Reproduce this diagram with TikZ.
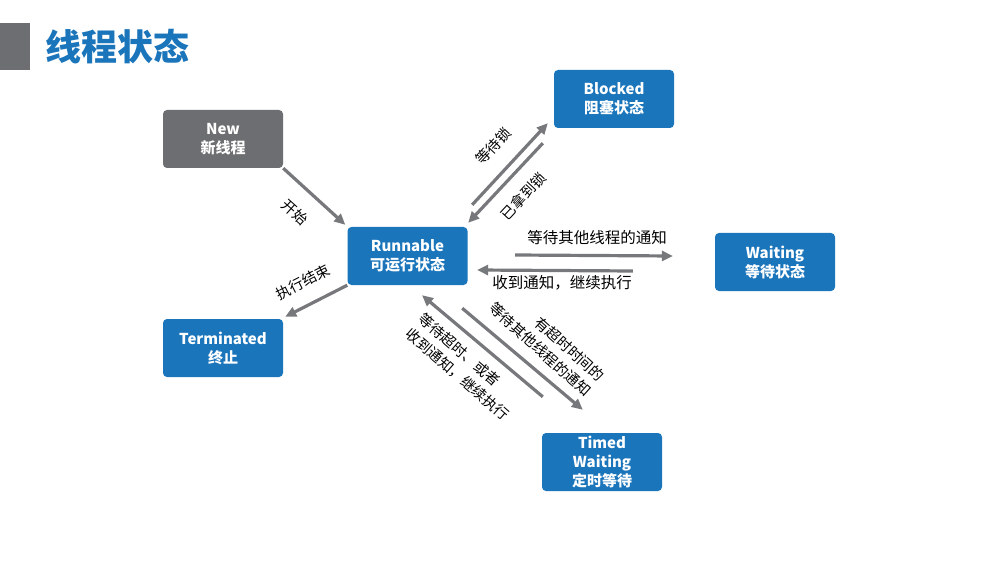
\documentclass[tikz,border=0pt]{standalone}
\usepackage{fontspec}
\setmainfont{Noto Sans CJK SC}
\usetikzlibrary{positioning,arrows.meta}
\definecolor{boxblue}{HTML}{1B75BB}
\definecolor{boxgray}{HTML}{6D6E71}
\definecolor{arrowgray}{HTML}{77787B}

\begin{document}
\begin{tikzpicture}[x=1pt,y=-1pt,
    state/.style={rounded corners=4pt,fill=boxblue,text=white,minimum width=120pt,
                  minimum height=58pt,inner sep=1pt,align=center,
                  font=\fontsize{15}{19}\selectfont\bfseries},
    trans/.style={draw=arrowgray,line width=3.2pt,-{Triangle[length=11pt,width=10pt]}},
    lbl/.style={font=\fontsize{14.5}{20}\selectfont,inner sep=0pt},
    hlbl/.style={font=\fontsize{15.5}{20}\selectfont,inner sep=0pt}]
    \useasboundingbox[fill=white] (0,0) rectangle (998,561);

    % title
    \fill[boxgray] (0,23) rectangle (30,70);
    \node[font=\fontsize{36}{36}\selectfont\bfseries,text=boxblue,anchor=west,inner sep=0pt]
        (title) at (45,47) {线程状态};

    % states
    \node[state,fill=boxgray] (new) at (223,139) {New\\新线程};
    \node[state] (blk) at (614,99) {Blocked\\阻塞状态};
    \node[state] (run) at (407.5,256) {Runnable\\可运行状态};
    \node[state] (wait) at (775,262) {Waiting\\等待状态};
    \node[state] (term) at (223,348) {Terminated\\终止};
    \node[state] (timed) at (602,462) {Timed\\Waiting\\定时等待};

    % transitions
    \draw[trans] (new.south east) -- ([shift={(-2,-2)}]run.north west);
    \draw[trans] (run.south west) -- ([shift={(2,-2)}]term.north east);
    \draw[trans] ([shift={(4.5,-22)}]run.north east) -- ([shift={(-6,-5)}]blk.south west);
    \draw[trans] ([shift={(-11,15)}]blk.south west) -- ([shift={(0.5,-4)}]run.north east);
    \draw[trans] ([shift={(47.5,-1)}]run.east) -- ([shift={(-42,-6)}]wait.west);
    \draw[trans] ([shift={(-82,9)}]wait.west) -- ([shift={(9.5,14)}]run.east);
    \draw[trans] ([shift={(-5.5,23)}]run.south east) -- ([shift={(41,-23)}]timed.north west);
    \draw[trans] ([shift={(1,-36)}]timed.north west) -- ([shift={(14.5,10)}]run.south);

    % labels
    \node[lbl,rotate=-42] (l-start) at (295,212) {开始};
    \node[lbl,rotate=27] (l-end) at (303,282) {执行结束};
    \node[lbl,rotate=47] (l-lock) at (493,146) {等待锁};
    \node[lbl,rotate=47] (l-got) at (523,196) {已拿到锁};
    \node[hlbl] (l-wait) at (597,238) {等待其他线程的通知};
    \node[hlbl] (l-notify) at (562,283) {收到通知，继续执行};
    \node[lbl,rotate=-42,align=right] (l-timed) at (547,342) {有超时时间的\\等待其他线程的通知};
    \node[lbl,rotate=-41,align=left] (l-back) at (464,367) {等待超时、或者\\收到通知，继续执行};
\end{tikzpicture}
\end{document}
